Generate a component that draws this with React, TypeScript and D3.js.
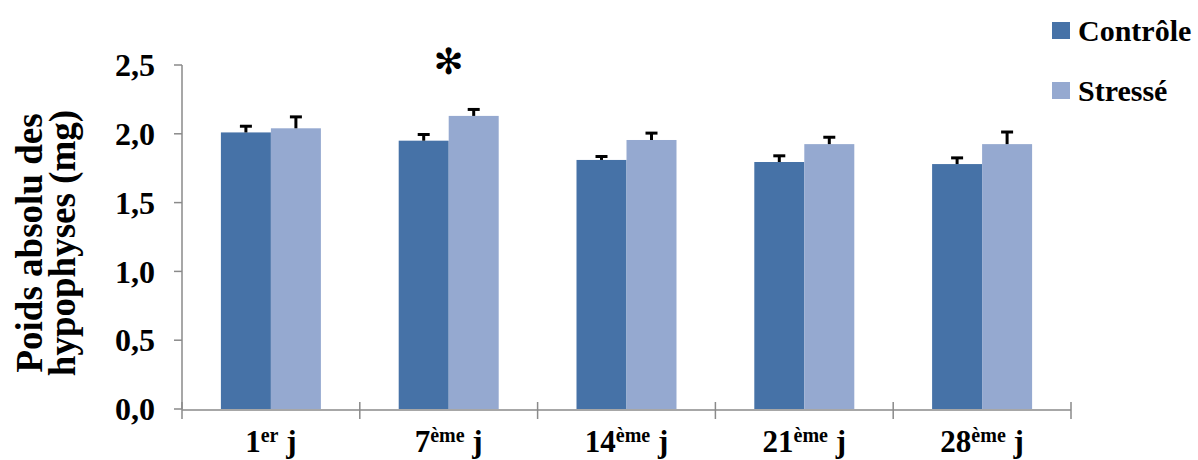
import React from "react";
import * as d3 from "d3";

// Poids absolu des hypophyses (mg), moyenne ± erreur, par jour et par groupe
const days = ["1", "7", "14", "21", "28"];
const daySup = ["er", "ème", "ème", "ème", "ème"];
const series = ["Contrôle", "Stressé"];
const controle = [2.01, 1.95, 1.81, 1.795, 1.78];
const controleErr = [0.045, 0.045, 0.025, 0.045, 0.045];
const stresse = [2.04, 2.13, 1.955, 1.925, 1.925];
const stresseErr = [0.083, 0.047, 0.05, 0.05, 0.088];
const significant = [false, true, false, false, false];
const yTicks = [0, 0.5, 1.0, 1.5, 2.0, 2.5];

const colors = ["#4672A7", "#95A9D0"];
const axisColor = "#8A8A8A";
const font = "'Liberation Serif', 'Times New Roman', serif";

export default function App() {
  const W = 1198;
  const H = 460;
  const left = 182;
  const right = 1071;
  const top = 65;
  const bottom = 409;

  const y = d3.scaleLinear().domain([0, 2.5]).range([bottom, top]);
  const x = d3.scaleBand<string>().domain(days).range([left, right]).paddingInner(0).paddingOuter(0);
  const step = x.bandwidth();
  const x1 = d3
    .scaleBand<string>()
    .domain(series)
    .range([0, step])
    .paddingInner(0)
    .paddingOuter((step / 50 - 2) / 2);

  const values = [controle, stresse];
  const errs = [controleErr, stresseErr];
  const fmt = (v: number) => d3.format(".1f")(v).replace(".", ",");

  return (
    <svg
      width={W}
      height={H}
      style={{ position: "absolute", left: 0, top: 0, background: "#fff" }}
      fontFamily={font}
      fontWeight="bold"
    >
      {/* bars */}
      {days.map((d, i) =>
        series.map((s, k) => {
          const v = values[k][i];
          const bx = (x(d) ?? 0) + (x1(s) ?? 0);
          return (
            <rect
              key={`${d}-${s}`}
              x={bx}
              y={y(v)}
              width={x1.bandwidth()}
              height={y(0) - y(v)}
              fill={colors[k]}
            />
          );
        })
      )}

      {/* error bars (positive only) */}
      {days.map((d, i) =>
        series.map((s, k) => {
          const v = values[k][i];
          const e = errs[k][i];
          const cx = (x(d) ?? 0) + (x1(s) ?? 0) + x1.bandwidth() / 2;
          return (
            <g key={`e-${d}-${s}`} stroke="#000" strokeWidth={3}>
              <line x1={cx} x2={cx} y1={y(v)} y2={y(v + e)} />
              <line x1={cx - 6} x2={cx + 6} y1={y(v + e)} y2={y(v + e)} />
            </g>
          );
        })
      )}

      {/* significance marks */}
      {days.map((d, i) =>
        significant[i] ? (
          <text
            key={`sig-${d}`}
            x={(x(d) ?? 0) + step / 2}
            y={61}
            dy="0.35em"
            textAnchor="middle"
            fontFamily="'DejaVu Sans', sans-serif"
            fontWeight="normal"
            fontSize={36}
          >
            ✻
          </text>
        ) : null
      )}

      {/* y axis */}
      <line x1={left} x2={left} y1={top} y2={bottom} stroke={axisColor} strokeWidth={1.5} />
      {yTicks.map((t) => (
        <g key={`yt-${t}`}>
          <line x1={left - 8} x2={left} y1={y(t)} y2={y(t)} stroke={axisColor} strokeWidth={1.5} />
          <text x={155} y={y(t)} dy="0.35em" textAnchor="end" fontSize={32}>
            {fmt(t)}
          </text>
        </g>
      ))}

      {/* x axis */}
      <line x1={left} x2={right} y1={y(0) + 1} y2={y(0) + 1} stroke={axisColor} strokeWidth={1.5} />
      {[...days.map((d) => x(d) ?? 0), right].map((px, i) => (
        <line key={`xt-${i}`} x1={px} x2={px} y1={y(0) - 7} y2={y(0) + 10} stroke={axisColor} strokeWidth={1.5} />
      ))}
      {days.map((d, i) => (
        <text key={`xl-${d}`} x={(x(d) ?? 0) + step / 2} y={452} textAnchor="middle" fontSize={31}>
          <tspan>{d}</tspan>
          <tspan dy={-10} fontSize={20}>
            {daySup[i]}
          </tspan>
          <tspan dy={10}>{"\u00a0j"}</tspan>
        </text>
      ))}

      {/* y axis title */}
      <text transform="translate(42,243) rotate(-90)" textAnchor="middle" fontSize={37}>
        Poids absolu des
      </text>
      <text transform="translate(75,243) rotate(-90)" textAnchor="middle" fontSize={37}>
        hypophyses (mg)
      </text>

      {/* legend */}
      {series.map((s, k) => (
        <g key={`lg-${s}`} transform={`translate(1052, ${22 + k * 60})`}>
          <rect x={0} y={0} width={18} height={17} fill={colors[k]} />
          <text x={26} y={19} fontSize={30}>
            {s}
          </text>
        </g>
      ))}
    </svg>
  );
}
